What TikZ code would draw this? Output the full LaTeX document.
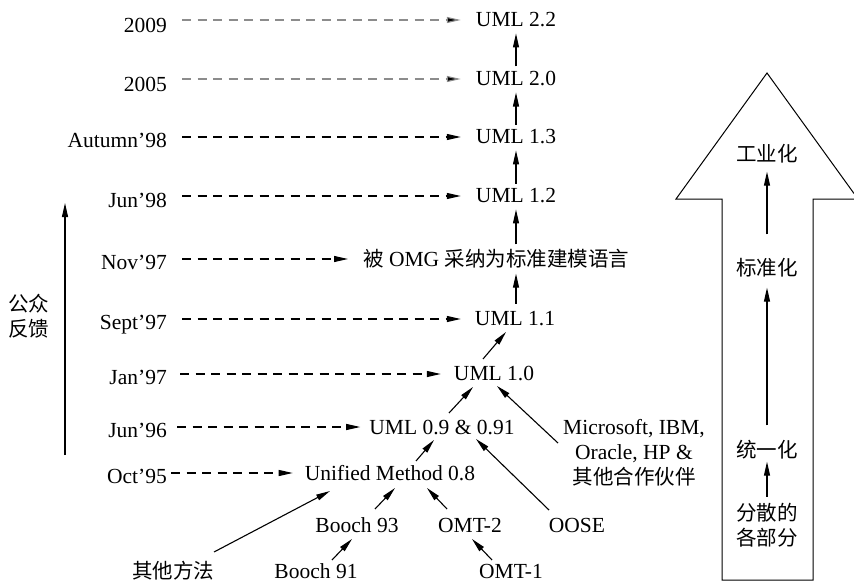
\documentclass[tikz,border=0pt]{standalone}
\usepackage{fontspec}
\setmainfont{Liberation Serif}
\newfontfamily\cjk{Noto Sans CJK SC}
\usetikzlibrary{arrows.meta,calc}
\newcommand{\zh}[1]{{\cjk\fontsize{20.5}{25}\selectfont #1}}
\tikzset{
  lbl/.style={inner sep=0pt, font=\fontsize{21.5}{25}\selectfont},
  datelbl/.style={lbl, anchor=base east},
  arr/.style={-{Triangle[length=14pt,width=6pt]}, line width=1.1pt},
  dasharr/.style={arr, dash pattern=on 9pt off 6.5pt},
  grayarr/.style={dasharr, draw=black!45, -{Triangle[length=14pt,width=6pt,fill=black]}},
  outline/.style={line width=1pt, line join=miter}
}
\begin{document}
\begin{tikzpicture}[x=1pt,y=-1pt]
\useasboundingbox (0,0) rectangle (854,583);

% dates
\node[datelbl] (d2009) at (167,33) {2009};
\node[datelbl] (d2005) at (167,92) {2005};
\node[datelbl] (da98) at (167,148) {Autumn’98};
\node[datelbl] (dj98) at (167,207) {Jun’98};
\node[datelbl] (dn97) at (167,269) {Nov’97};
\node[datelbl] (ds97) at (167,329) {Sept’97};
\node[datelbl] (dj97) at (167,384) {Jan’97};
\node[datelbl] (dj96) at (167,437) {Jun’96};
\node[datelbl] (do95) at (167,483) {Oct’95};

% main column
\node[lbl] (u22) at (516,20) {UML 2.2};
\node[lbl] (u20) at (516,79) {UML 2.0};
\node[lbl] (u13) at (516,137) {UML 1.3};
\node[lbl] (u12) at (516,196) {UML 1.2};
\node[lbl, anchor=west] (omg) at (363,259) {\zh{被} OMG \zh{采纳为标准建模语言}};
\node[lbl] (u11) at (515,319) {UML 1.1};
\node[lbl] (u10) at (494,374) {UML 1.0};
\node[lbl] (u09) at (442,427) {UML 0.9 \& 0.91};
\node[lbl] (um08) at (390,473) {Unified Method 0.8};
\node[lbl] (b93) at (357,525) {Booch 93};
\node[lbl] (omt2) at (470,525) {OMT-2};
\node[lbl] (oose) at (577,525) {OOSE};
\node[lbl] (b91) at (316,571) {Booch 91};
\node[lbl] (omt1) at (511,571) {OMT-1};
\node[lbl] (other) at (173,571) {\zh{其他方法}};
\node[lbl, align=center] (ms) at (634,453) {Microsoft, IBM,\\Oracle, HP \&\\\zh{其他合作伙伴}};

% dashed time arrows
\draw[grayarr, shorten <=15pt, shorten >=15pt] (d2009.east |- u22.west) -- (u22.west);
\draw[grayarr, shorten <=15pt, shorten >=15pt] (d2005.east |- u20.west) -- (u20.west);
\draw[dasharr, shorten <=15pt, shorten >=15pt] (da98.east |- u13.west) -- (u13.west);
\draw[dasharr, shorten <=15pt, shorten >=15pt] (dj98.east |- u12.west) -- (u12.west);
\draw[dasharr, shorten <=15pt, shorten >=15pt] (dn97.east |- omg.west) -- (omg.west);
\draw[dasharr, shorten <=15pt, shorten >=14pt] (ds97.east |- u11.west) -- (u11.west);
\draw[dasharr, shorten <=13pt, shorten >=13pt] (dj97.east |- u10.west) -- (u10.west);
\draw[dasharr, shorten <=10pt, shorten >=9pt] (dj96.east |- u09.west) -- (u09.west);
\draw[dasharr, shorten <=4pt, shorten >=12pt] (do95.east |- um08.west) -- (um08.west);

% vertical column arrows
\draw[arr, shorten <=5pt, shorten >=6pt] (u20.north) -- (u22.south);
\draw[arr, shorten <=5pt, shorten >=6pt] (u13.north) -- (u20.south);
\draw[arr, shorten <=5pt, shorten >=6pt] (u12.north) -- (u13.south);
\draw[arr, shorten <=5pt, shorten >=6pt] (u12 |- omg.north) -- (u12.south);
\draw[arr, shorten <=8pt, shorten >=5pt] (u11.north -| u12) -- (u12 |- omg.south);

% diagonal arrows
\draw[arr] ($(u10.center)+(-11,-15)$) -- ($(u11.center)+(-9,13)$);
\draw[arr] ($(u09.center)+(7,-14)$) -- ($(u10.center)+(-21,13)$);
\draw[arr] ($(ms.center)+(-76,-10)$) -- ($(u10.center)+(3,12)$);
\draw[arr] ($(um08.center)+(26,-12)$) -- ($(u09.center)+(-8,13)$);
\draw[arr] ($(oose.center)+(-28,-15)$) -- ($(u09.center)+(34,12)$);
\draw[arr] ($(other.center)+(41,-19)$) -- ($(um08.center)+(-60,18)$);
\draw[arr] ($(b93.center)+(18,-16)$) -- ($(um08.center)+(5,15)$);
\draw[arr] ($(omt2.center)+(-23,-16)$) -- ($(um08.center)+(37,15)$);
\draw[arr] ($(b91.center)+(16,-11)$) -- ($(b93.center)+(-5,14)$);
\draw[arr] ($(omt1.center)+(-19,-11)$) -- ($(omt2.center)+(2,14)$);

% public feedback
\node[lbl, align=center] (fb) at (29,316) {\zh{公众}\\\zh{反馈}};
\coordinate (fbb) at (65,455);
\coordinate (fbt) at (65,203);
\draw[arr] (fbb) -- (fbt);

% big arrow
\draw[outline] (854,193.5) -- (767,73) -- (676,199) -- (722,199) -- (722,580)
  -- (813,580) -- (813,199) -- (854,199);
\node[lbl] (ind) at (767,154) {\zh{工业化}};
\node[lbl] (std) at (767,268) {\zh{标准化}};
\node[lbl] (uni) at (767,450) {\zh{统一化}};
\node[lbl, align=center] (parts) at (767,525) {\zh{分散的}\\\zh{各部分}};
\draw[arr, shorten <=24pt, shorten >=8pt] (std.north) -- (ind.south);
\draw[arr, shorten <=15pt, shorten >=10pt] (uni.north) -- (std.south);
\draw[arr, shorten <=6pt, shorten >=2pt] (parts.north) -- (uni.south);
\end{tikzpicture}
\end{document}
